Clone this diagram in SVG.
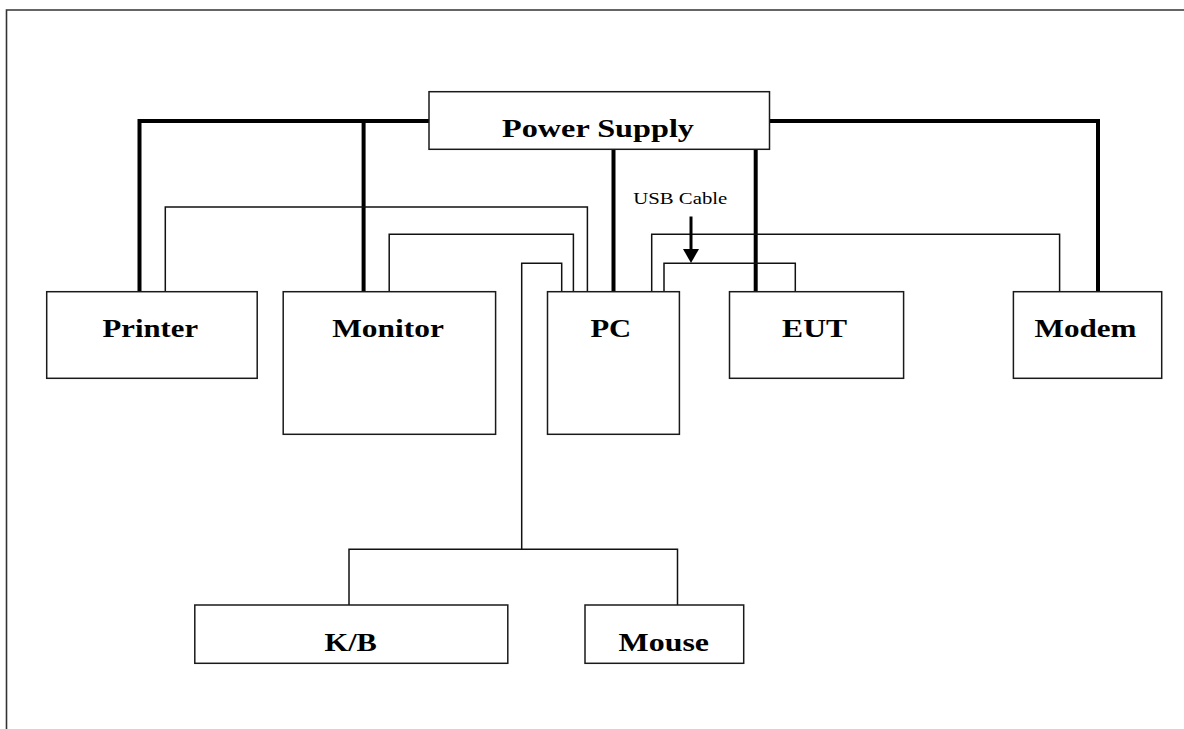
<svg xmlns="http://www.w3.org/2000/svg" width="1184" height="729" viewBox="0 0 1184 729">
<style>
.box{fill:#fff;stroke:#1a1a1a;stroke-width:1.5}
.lbl{font-family:"Liberation Serif","Times New Roman",serif;font-weight:bold;font-size:25px;fill:#000;text-anchor:middle}
.small{font-family:"Liberation Serif","Times New Roman",serif;font-size:17px;fill:#000}
.thick{fill:none;stroke:#000;stroke-width:4}
.thin{fill:none;stroke:#111;stroke-width:1.5}
.frame{fill:none;stroke:#333;stroke-width:1.6}
</style>
<rect x="0" y="0" width="1184" height="729" fill="#fff"/>
<path class="frame" d="M6.5,729 V10 H1184"/>
<g id="connectors">
<path class="thick" d="M429,121 H139.5 V292"/>
<path class="thick" d="M363.6,121 V292"/>
<path class="thick" d="M613.5,149 V292"/>
<path class="thick" d="M755.7,149 V292"/>
<path class="thick" d="M769.5,121 H1098 V292"/>
<path class="thin" d="M165.3,292 V207 H587.4 V292"/>
<path class="thin" d="M389.2,292 V234.3 H573.4 V292"/>
<path class="thin" d="M561.7,292 V263.3 H521.7 V549.3"/>
<path class="thin" d="M349,605 V549.3 H677.5 V605"/>
<path class="thin" d="M651.7,292 V234.3 H1059.6 V292"/>
<path class="thin" d="M664,292 V263.3 H795.3 V292"/>
<path fill="none" stroke="#000" stroke-width="3" d="M691,216.5 V251"/>
<polygon fill="#000" points="683,249 699,249 691,263"/>
<text class="small" x="633.3" y="204.3" textLength="94" lengthAdjust="spacingAndGlyphs">USB Cable</text>
</g>
<g id="power-supply">
<rect class="box" x="429" y="91.7" width="340.5" height="57.6"/>
<text class="lbl" x="598" y="137.3" textLength="192" lengthAdjust="spacingAndGlyphs">Power Supply</text>
</g>
<g id="printer">
<rect class="box" x="46.7" y="291.7" width="210.5" height="86.6"/>
<text class="lbl" x="150.3" y="337.3" textLength="95.5" lengthAdjust="spacingAndGlyphs">Printer</text>
</g>
<g id="monitor">
<rect class="box" x="283.2" y="291.7" width="212.4" height="142.6"/>
<text class="lbl" x="388" y="337.3" textLength="111.7" lengthAdjust="spacingAndGlyphs">Monitor</text>
</g>
<g id="pc">
<rect class="box" x="547.5" y="291.7" width="131.9" height="142.6"/>
<text class="lbl" x="610.8" y="337.3" textLength="40.8" lengthAdjust="spacingAndGlyphs">PC</text>
</g>
<g id="eut">
<rect class="box" x="729.5" y="291.7" width="174.1" height="86.6"/>
<text class="lbl" x="814.6" y="337.3" textLength="65" lengthAdjust="spacingAndGlyphs">EUT</text>
</g>
<g id="modem">
<rect class="box" x="1013.4" y="291.7" width="148.3" height="86.6"/>
<text class="lbl" x="1085.5" y="337.3" textLength="102" lengthAdjust="spacingAndGlyphs">Modem</text>
</g>
<g id="kb">
<rect class="box" x="194.8" y="605" width="313" height="58.3"/>
<text class="lbl" x="350.7" y="650.7" textLength="52.4" lengthAdjust="spacingAndGlyphs">K/B</text>
</g>
<g id="mouse">
<rect class="box" x="585" y="605" width="158.7" height="58.3"/>
<text class="lbl" x="663.8" y="650.7" textLength="90.5" lengthAdjust="spacingAndGlyphs">Mouse</text>
</g>
</svg>
